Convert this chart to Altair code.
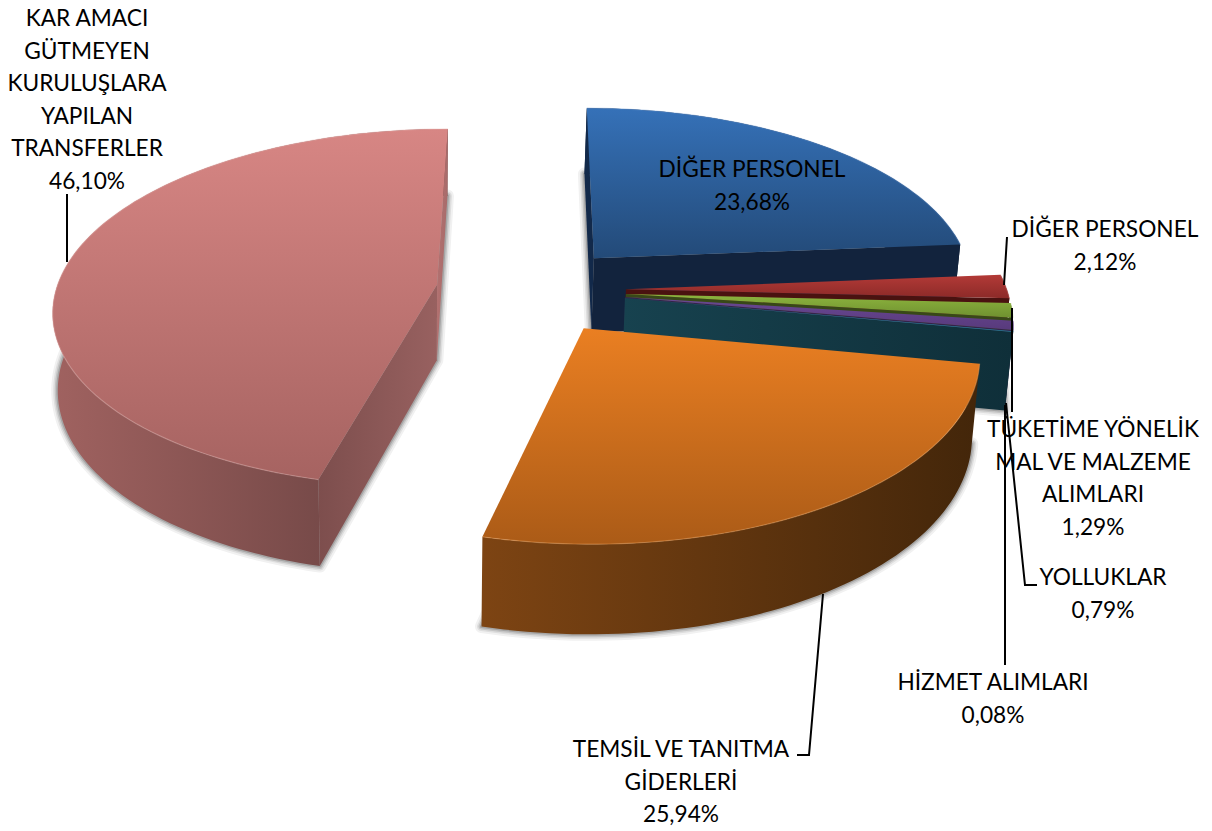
import math
import altair as alt

# ---- data (share of total, clockwise from 12 o'clock)
names = ["DİĞER PERSONEL", "DİĞER PERSONEL", "TÜKETİME YÖNELİK\nMAL VE MALZEME\nALIMLARI",
         "YOLLUKLAR", "HİZMET ALIMLARI", "TEMSİL VE TANITMA\nGİDERLERİ",
         "KAR AMACI\nGÜTMEYEN\nKURULUŞLARA\nYAPILAN\nTRANSFERLER"]
shares = [23.68, 2.12, 1.29, 0.79, 0.08, 25.94, 46.10]

# ---- label placement (page pixels: centre x, top of first line)
label_x = [752, 1105, 1093, 1103, 993, 681, 87]
label_y = [159, 219, 419, 567, 672, 739, 8]

# ---- leader lines (page pixels)
leaders = [
    [(67, 194), (67, 262)],
    [(1007, 237), (1004, 285)],
    [(1012, 308), (1012, 412)],
    [(1006, 403), (1025, 585), (1037, 585)],
    [(1005, 405), (1005, 665)],
    [(823, 594), (809, 755), (797, 755)],
]

# ---- styles per slice: top gradient, outer wall gradient, cut-face colours
styles = [
    dict(top=("#3571b8", "#234a78"), wall=("#14263f", "#101f36"), cut0=("#12294a", "#12294a"), cut1=("#12233d", "#12233d"), edge="#5f8fcb"),
    dict(top=("#b33a37", "#8c2a28"), wall=("#4a1412", "#3e100e"), cut0=("#4a1412", "#4a1412"), cut1=("#4a1210", "#4a1210"), edge="#c96a67"),
    dict(top=("#8db53e", "#6f9030"), wall=("#3c4c1a", "#334016"), cut0=("#3c4c1a", "#3c4c1a"), cut1=("#384818", "#384818"), edge="#a8c868"),
    dict(top=("#6a4894", "#583a7c"), wall=("#35244e", "#2d1f42"), cut0=("#35244e", "#35244e"), cut1=("#33234b", "#33234b"), edge="#8e70b4"),
    dict(top=("#2e94ae", "#267e94"), wall=("#10303a", "#0e2a33"), cut0=("#17434f", "#17434f"), cut1=("#17424f", "#0f2f39"), edge="#2e94ae"),
    dict(top=("#ea7f22", "#ab5b17"), wall=("#7d4413", "#43260a"), cut0=("#5a3210", "#5a3210"), cut1=("#5a3210", "#5a3210"), edge="#f5a860"),
    dict(top=("#d78684", "#a66361"), wall=("#a06260", "#643f3e"), cut0=("#7d4e4d", "#986160"), cut1=("#b27170", "#a86b6a"), edge="#e9b4b2"),
]

# ---- 3-D view of the exploded pie
VX, VY = 531, 290
R, EXPLODE, TILT, PERSP, DEPTH = 381, 95, 0.465, 0.00034, 76
SHRINK_X, SHRINK = 420, 0.986


def pt(X, Z, low=False):
    p = 1 / (1 + PERSP * Z)
    x = VX + X * p
    y = VY - TILT * Z * p
    if low:
        x = SHRINK_X + (x - SHRINK_X) * SHRINK
        y += DEPTH * p
    return [round(x, 2), round(y, 2)]


def slice_geometry(a0, a1):
    mid = math.radians((a0 + a1) / 2)
    ax, az = EXPLODE * math.sin(mid), EXPLODE * math.cos(mid)
    n = max(2, int((a1 - a0) / 1.5) + 1)
    rim = []
    for i in range(n + 1):
        t = math.radians(a0 + (a1 - a0) * i / n)
        rim.append((ax + R * math.sin(t), az + R * math.cos(t)))
    top_rim = [pt(*q) for q in rim]
    low_rim = [pt(*q, low=True) for q in rim]
    atop, alow = pt(ax, az), pt(ax, az, low=True)
    return dict(
        top=[atop] + top_rim + [atop],
        low=[alow] + low_rim + [alow],
        wall=top_rim + low_rim[::-1] + [top_rim[0]],
        cut0=[atop, top_rim[0], low_rim[0], alow, atop],
        cut1=[atop, top_rim[-1], low_rim[-1], alow, atop],
        rim=top_rim,
        show0=math.sin(math.radians(a0)) < 0.01,
        show1=math.sin(math.radians(a1)) > -0.01,
    )


def poly(ring):
    return {"type": "Feature", "properties": {}, "geometry": {"type": "Polygon", "coordinates": [ring]}}


def line(pts):
    return {"type": "Feature", "properties": {},
            "geometry": {"type": "LineString", "coordinates": [list(p) for p in pts]}}


def grad(c0, c1, vertical=True):
    return alt.Gradient(
        gradient="linear",
        stops=[alt.GradientStop(offset=0, color=c0), alt.GradientStop(offset=1, color=c1)],
        x1=0, y1=0, x2=0 if vertical else 1, y2=1 if vertical else 0,
    )


PROJ = dict(type="identity", scale=1, translate=[-8, -8])


def shape(features, **mark):
    return alt.Chart(alt.Data(values=features)).mark_geoshape(**mark).project(**PROJ)


angles, acc = [], 0.0
for s in shares:
    angles.append((acc * 3.6, (acc + s) * 3.6))
    acc += s
geos = [slice_geometry(*a) for a in angles]

layers = []
# soft shadow under every slice
for width, colour in [(13, "#f1f1f1"), (9, "#dedede"), (6, "#c4c4c4"), (3, "#a5a5a5")]:
    layers.append(shape([poly(g["low"]) for g in geos], fill=colour, stroke=colour,
                        strokeWidth=width, strokeJoin="round"))

# slices, back to front
for g, st in zip(geos, styles):
    layers.append(shape([poly(g["wall"])], fill=grad(*st["wall"], vertical=False)))
    if g["show0"]:
        layers.append(shape([poly(g["cut0"])], fill=grad(*st["cut0"], vertical=False)))
    if g["show1"]:
        layers.append(shape([poly(g["cut1"])], fill=grad(*st["cut1"], vertical=False)))
    layers.append(shape([poly(g["top"])], fill=grad(*st["top"])))
    layers.append(shape([line(g["rim"])], filled=False, stroke=st["edge"], strokeWidth=1.2, strokeOpacity=0.4))

# leaders
layers.append(shape([line(l) for l in leaders], filled=False, stroke="#000000", strokeWidth=2))

# labels
rows = [
    {"t": f"{n}\n{v:.2f}%".replace(".", ","), "x": x - 8, "y": y - 8}
    for n, v, x, y in zip(names, shares, label_x, label_y)
]
layers.append(
    alt.Chart(alt.Data(values=rows))
    .mark_text(font="Lato", fontSize=22.7, color="#000000", align="center", baseline="top",
               lineBreak="\n", lineHeight=32.6)
    .encode(x=alt.X("x:Q", scale=None, axis=None), y=alt.Y("y:Q", scale=None, axis=None), text="t:N")
)

chart = (
    alt.layer(*layers)
    .properties(width=1196, height=822, padding=0, background="#ffffff",
                autosize=alt.AutoSizeParams(type="none"))
    .configure_view(stroke=None)
)
chart.save("out.html", embed_options={"renderer": "svg", "actions": False})
